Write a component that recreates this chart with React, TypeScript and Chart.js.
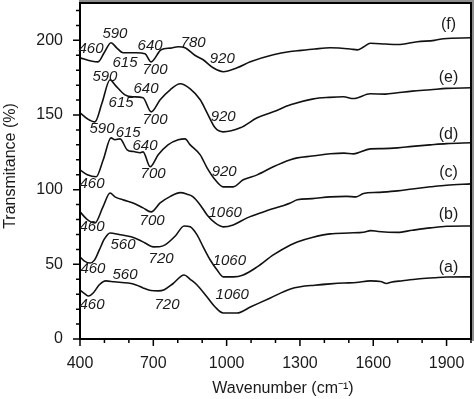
import React, { useEffect, useRef } from 'react';
import { Chart, registerables } from 'chart.js';

Chart.register(...registerables);

const FONT = '"Liberation Sans", Arial, Helvetica, sans-serif';

// ---- axis ticks ----
const xTickValues = [400, 700, 1000, 1300, 1600, 1900];
const yTickValues = [0, 50, 100, 150, 200];
const xMinorStep = 100;
const yMinorStep = 10;
const xMin = 400;
const xMax = 2000;
const yMin = 0;
const yMax = 225;

// ---- spectra (wavenumber, transmittance) ----
const waveA = [400, 420, 435, 455, 480, 506, 540, 597, 630, 658, 690, 720, 745, 780, 826, 851, 879, 920, 953, 986, 1043, 1097, 1179, 1261, 1302, 1360, 1424, 1480, 1530, 1588, 1630, 1655, 1672, 1720, 1781, 1850, 1900, 2000];
const transA = [32.8, 30.2, 28.8, 31, 36.5, 38.9, 38.3, 37.5, 36.2, 34.2, 32.5, 32.2, 33, 37, 42.9, 40, 36.2, 28.1, 21.4, 17.4, 17.4, 21.4, 27.5, 33.5, 35, 36, 36.9, 37.5, 37.8, 38.9, 38.5, 37.2, 38.0, 39, 40.2, 41, 41.5, 41.6];

const waveB = [400, 420, 441, 460, 480, 500, 523, 560, 609, 640, 666, 699, 725, 748, 790, 826, 851, 879, 904, 933, 961, 986, 1027, 1068, 1125, 1191, 1261, 1289, 1350, 1424, 1500, 1560, 1590, 1620, 1700, 1760, 1834, 1900, 2000];
const transB = [55, 52, 50.9, 53, 60, 67, 71, 70, 68.4, 66.5, 64.3, 61.7, 61.8, 63, 69, 75.7, 75.1, 69.7, 61.7, 52.9, 46.2, 41.6, 41.6, 42.9, 48.3, 56.3, 63, 65, 68, 70.4, 71, 71.5, 72.6, 72, 71.4, 72.8, 74.4, 75.5, 75.7];

const waveC = [400, 430, 461, 494, 523, 543, 580, 617, 658, 691, 728, 770, 810, 838, 860, 892, 920, 953, 986, 1027, 1084, 1150, 1261, 1289, 1350, 1424, 1490, 1530, 1560, 1620, 1699, 1760, 1834, 1900, 2000];
const transC = [85.1, 80, 77.7, 88.5, 97.8, 95.2, 93, 91.1, 87.8, 85.1, 91.1, 95.5, 98, 97, 95.5, 89.8, 83.1, 77.7, 75.1, 76.4, 81.1, 85.1, 91.1, 93.2, 94, 95.2, 95.5, 95.2, 97.4, 98.2, 99.2, 100.5, 101.9, 103, 103.9];

const waveD = [400, 430, 466, 495, 527, 543, 564, 593, 620, 646, 658, 687, 720, 760, 802, 830, 851, 892, 920, 953, 986, 1027, 1068, 1125, 1191, 1261, 1289, 1350, 1424, 1480, 1519, 1588, 1640, 1699, 1760, 1834, 1900, 2000];
const transD = [113.3, 110, 108.6, 120, 134.7, 133.4, 134, 126.7, 125.5, 124.7, 125.3, 115.3, 123.3, 130, 133.4, 134, 130, 123.3, 114.6, 106.6, 101.9, 101.9, 106.6, 109.9, 115.3, 120, 121.3, 122.5, 124, 124.5, 124, 127.3, 127.5, 128, 129, 130, 130.8, 131.4];

const waveE = [400, 430, 461, 490, 523, 543, 584, 617, 658, 691, 728, 769, 810, 851, 892, 920, 953, 986, 1056, 1125, 1191, 1261, 1355, 1420, 1478, 1519, 1588, 1650, 1699, 1760, 1834, 1900, 2000];
const transE = [151.5, 147.5, 145.4, 158, 173.6, 170.2, 163.5, 162.2, 161.5, 152.1, 160.2, 166.9, 170.9, 167.5, 160.2, 151.5, 141.4, 138.7, 141.4, 148.1, 152.1, 156.8, 160.8, 161.8, 162.2, 161.0, 164.2, 164, 164.9, 166, 166.9, 167.8, 168.2];

const waveF = [400, 450, 474, 500, 527, 550, 576, 629, 666, 691, 732, 770, 802, 830, 870, 904, 945, 986, 1043, 1097, 1191, 1261, 1289, 1360, 1424, 1506, 1535, 1560, 1588, 1650, 1699, 1781, 1850, 1888, 2000];
const transF = [188.3, 186, 185.6, 192, 198.4, 195, 191.7, 191.7, 191, 185.6, 193.7, 194.8, 195.7, 195, 190, 187, 181.6, 179, 181.6, 185.6, 190.3, 192.5, 193, 194.2, 195, 194.2, 193.6, 195.5, 198.0, 197.5, 197.2, 199.1, 200, 201.1, 201.7];

// ---- series names (placed at the right end) ----
const seriesNames = ['(a)', '(b)', '(c)', '(d)', '(e)', '(f)'];
const seriesNameWave = 1908;
const seriesNameValue = [47.6, 83.1, 111.3, 136.7, 174.9, 210.4];

// ---- band annotations ----
const annText = ['460', '590', '615', '640', '700', '780', '920',
  '590', '615', '640', '700', '920',
  '590', '615', '640', '700', '920',
  '460', '700', '1060',
  '460', '560', '720', '1060',
  '460', '560', '720', '1060',
  '460'];
const annWave = [445, 543, 584, 687, 707, 863, 982,
  502, 568, 670, 707, 986,
  490, 597, 666, 699, 990,
  449, 695, 994,
  449, 576, 732, 1011,
  453, 584, 756, 1023,
  449];
const annValue = [194.3, 204.4, 185, 196.4, 180.3, 198.4, 187.7,
  175.6, 158.2, 167.6, 146.8, 148.8,
  140.7, 138, 129.4, 110.6, 111.9,
  103.9, 79.1, 84.4,
  75.1, 63, 53.6, 52.3,
  46.9, 42.9, 22.8, 29.5,
  22.8];

const xTitle = 'Wavenumber (cm\u207B\u00B9)';
const yTitle = 'Transmitance (%)';

const seriesWaves = [waveA, waveB, waveC, waveD, waveE, waveF];
const seriesTrans = [transA, transB, transC, transD, transE, transF];

const decor = {
  id: 'decor',
  afterDraw(chart: any) {
    const { ctx, chartArea: a, scales } = chart;
    const xs = scales.x;
    const ys = scales.y;
    ctx.save();
    // grey shadow of the frame
    ctx.fillStyle = '#8e8e8e';
    ctx.fillRect(a.left - 1, 0, chart.width - a.left + 1, Math.max(a.top - 1, 0));
    ctx.fillRect(a.right + 1, 0, chart.width - a.right - 1, a.bottom + 2);
    // frame
    ctx.strokeStyle = '#000';
    ctx.lineWidth = 2;
    ctx.strokeRect(a.left, a.top, a.right - a.left, a.bottom - a.top);
    // tick marks
    ctx.lineWidth = 1.5;
    ctx.beginPath();
    for (let v = yMin; v <= yMax; v += yMinorStep) {
      const p = ys.getPixelForValue(v);
      const len = yTickValues.includes(v) ? 7 : 4;
      ctx.moveTo(a.left - len, p);
      ctx.lineTo(a.left, p);
    }
    for (let v = xMin; v <= xMax; v += xMinorStep) {
      const p = xs.getPixelForValue(v);
      const len = xTickValues.includes(v) ? 7 : 4;
      ctx.moveTo(p, a.bottom);
      ctx.lineTo(p, a.bottom + len);
    }
    ctx.stroke();

    ctx.fillStyle = '#1a1a1a';
    ctx.textAlign = 'center';
    ctx.textBaseline = 'middle';
    ctx.font = `italic 15px ${FONT}`;
    annText.forEach((t, i) => {
      ctx.fillText(t, xs.getPixelForValue(annWave[i]), ys.getPixelForValue(annValue[i]));
    });
    ctx.font = `16px ${FONT}`;
    seriesNames.forEach((t, i) => {
      ctx.fillText(t, xs.getPixelForValue(seriesNameWave), ys.getPixelForValue(seriesNameValue[i]));
    });
    // axis titles
    ctx.fillText(xTitle, 283, 389);
    ctx.translate(11, 166);
    ctx.rotate(-Math.PI / 2);
    ctx.fillText(yTitle, 0, 0);
    ctx.restore();
  },
};

export default function App() {
  const ref = useRef<HTMLCanvasElement>(null);
  useEffect(() => {
    document.body.style.margin = '0';
    const datasets = seriesWaves.map((w, k) => ({
      label: seriesNames[k],
      data: w.map((x, i) => ({ x, y: seriesTrans[k][i] })),
      borderColor: '#111',
      borderWidth: 1.6,
      pointRadius: 0,
      fill: false,
      cubicInterpolationMode: 'monotone' as const,
    }));
    const chart = new Chart(ref.current!, {
      type: 'line',
      data: { datasets },
      plugins: [decor],
      options: {
        animation: false,
        responsive: false,
        events: [],
        layout: { padding: { top: 3, right: 3, left: 0, bottom: 0 } },
        plugins: { legend: { display: false }, tooltip: { enabled: false } },
        scales: {
          x: {
            type: 'linear',
            min: xMin,
            max: xMax,
            afterBuildTicks: (s: any) => { s.ticks = xTickValues.map((v) => ({ value: v })); },
            afterFit: (s: any) => { s.height = 60; s.paddingLeft = 0; s.paddingRight = 0; s.paddingTop = 0; s.paddingBottom = 0; },
            ticks: { font: { family: FONT, size: 16 }, color: '#1a1a1a', padding: 15, maxRotation: 0, autoSkip: false, callback: (v: any) => String(v) },
            grid: { display: false, drawTicks: false },
            border: { display: false },
          },
          y: {
            type: 'linear',
            min: yMin,
            max: yMax,
            afterBuildTicks: (s: any) => { s.ticks = yTickValues.map((v) => ({ value: v })); },
            afterFit: (s: any) => { s.width = 80; s.paddingLeft = 0; s.paddingRight = 0; s.paddingTop = 0; s.paddingBottom = 0; },
            ticks: { font: { family: FONT, size: 16 }, color: '#1a1a1a', padding: 17, callback: (v: any) => String(v) },
            grid: { display: false, drawTicks: false },
            border: { display: false },
          },
        },
      },
    });
    return () => chart.destroy();
  }, []);
  return (
    <div style={{ position: 'absolute', left: 0, top: 0, width: 474, height: 399, background: '#fff' }}>
      <canvas ref={ref} width={474} height={399} style={{ display: 'block' }} />
    </div>
  );
}
